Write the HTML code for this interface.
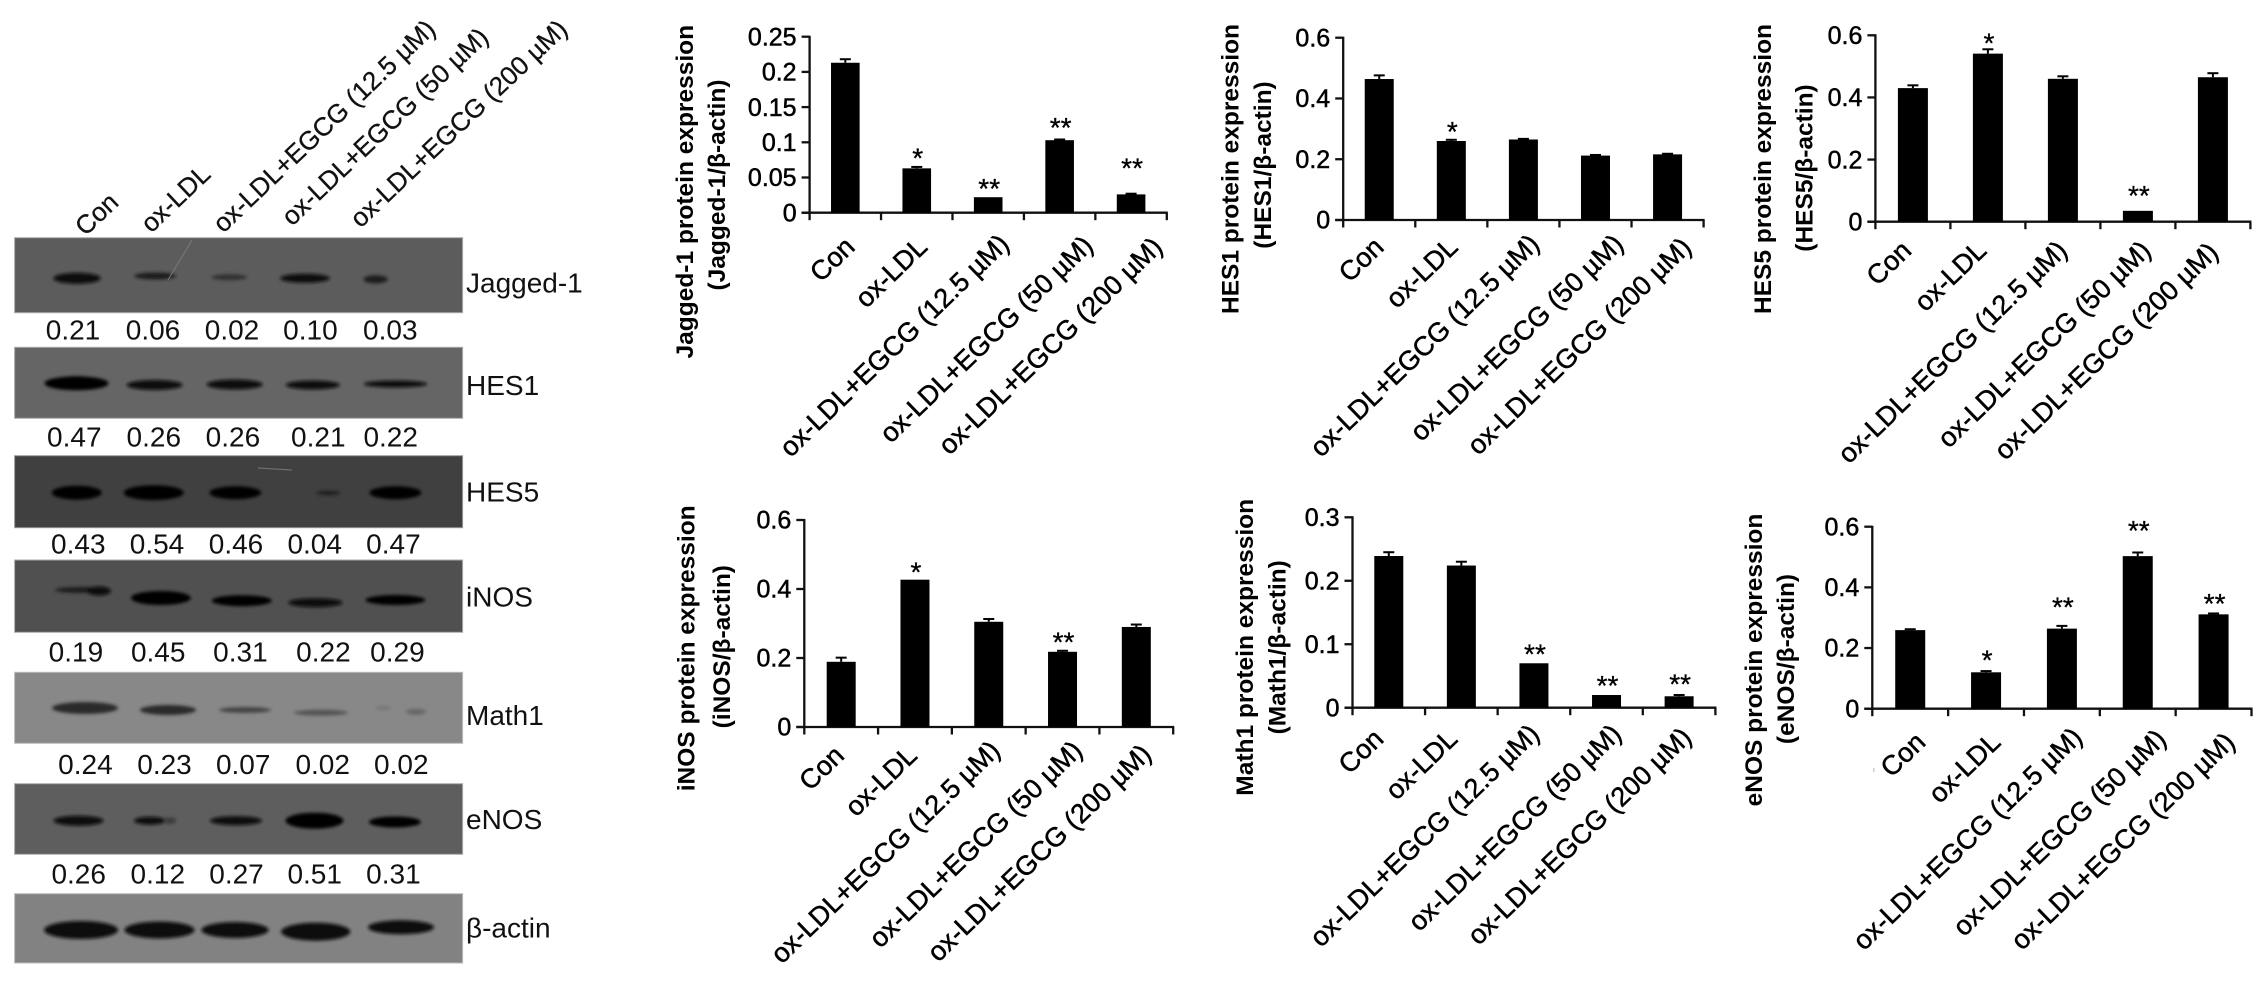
<!DOCTYPE html>
<html lang="en">
<head>
<meta charset="utf-8">
<title>Protein expression western blots and bar charts</title>
<style>
html,body{margin:0;padding:0;background:#fff;}
svg{display:block;}
text{font-family:"Liberation Sans",Arial,sans-serif;fill:#000;}
.val{font-size:28px;fill:#111;}
.blotname{font-size:28px;fill:#111;}
.lane{font-size:26px;fill:#111;stroke:#111;stroke-width:.3px;}
</style>
</head>
<body>
<svg id="figure" xmlns="http://www.w3.org/2000/svg" width="2268" height="986" viewBox="0 0 2268 986">
<defs>
<filter id="blur" x="-30%" y="-80%" width="160%" height="260%"><feGaussianBlur stdDeviation="1.6"/></filter>
</defs>
<rect width="2268" height="986" fill="#fff"/>

<g>
<text class="lane" transform="translate(120 204) rotate(-43.5)" text-anchor="end">Con</text>
<text class="lane" transform="translate(212 176) rotate(-43.5)" text-anchor="end">ox-LDL</text>
<text class="lane" transform="translate(437 31) rotate(-43.5)" text-anchor="end">ox-LDL+EGCG (12.5 µM)</text>
<text class="lane" transform="translate(490 39) rotate(-43.5)" text-anchor="end">ox-LDL+EGCG (50 µM)</text>
<text class="lane" transform="translate(569 31) rotate(-43.5)" text-anchor="end">ox-LDL+EGCG (200 µM)</text>
</g>

<g>
<rect x="14.6" y="237.7" width="448" height="75" fill="#5c5c5c" stroke="#aaa" stroke-width="1"/>
<g filter="url(#blur)">
<ellipse cx="77.1" cy="278.3" rx="23.7" ry="5.5" fill="#0d0d0d"/>
<ellipse cx="155.2" cy="276" rx="20.8" ry="3.5" fill="#1e1e1e"/>
<ellipse cx="229.3" cy="277.3" rx="17.8" ry="3" fill="#333"/>
<ellipse cx="305" cy="278.3" rx="25" ry="4.5" fill="#111"/>
<ellipse cx="375.6" cy="279.3" rx="12" ry="4" fill="#1a1a1a"/>
</g>
<line x1="168" y1="280" x2="192" y2="240" stroke="#797979" stroke-width="1"/>
</g>

<g>
<rect x="14.6" y="347.3" width="448" height="71" fill="#656565" stroke="#aaa" stroke-width="1"/>
<g filter="url(#blur)">
<ellipse cx="76.5" cy="383.3" rx="32" ry="7" fill="#050505"/>
<ellipse cx="154.6" cy="385" rx="28" ry="5" fill="#080808"/>
<ellipse cx="234.7" cy="384.5" rx="28" ry="5" fill="#080808"/>
<ellipse cx="312.8" cy="385" rx="27" ry="4.5" fill="#0a0a0a"/>
<ellipse cx="395.4" cy="384" rx="31.6" ry="3.5" fill="#0a0a0a"/>
</g>
</g>

<g>
<rect x="14.6" y="455.7" width="448" height="72" fill="#404040" stroke="#999" stroke-width="1"/>
<g filter="url(#blur)">
<ellipse cx="76.8" cy="492.7" rx="25" ry="7" fill="#020202"/>
<ellipse cx="153.7" cy="492.7" rx="30" ry="7.5" fill="#020202"/>
<ellipse cx="235.3" cy="492.7" rx="26" ry="6.5" fill="#020202"/>
<ellipse cx="328" cy="493" rx="12" ry="2" fill="#1a1a1a"/>
<ellipse cx="395.4" cy="492.7" rx="26" ry="6.5" fill="#020202"/>
</g>
<line x1="258" y1="468" x2="292" y2="470" stroke="#6e6e6e" stroke-width="1.2"/>
</g>

<g>
<rect x="14.6" y="560" width="448" height="72.3" fill="#505050" stroke="#aaa" stroke-width="1"/>
<g filter="url(#blur)">
<ellipse cx="82.8" cy="590" rx="28" ry="3" fill="#1a1a1a"/>
<ellipse cx="98.9" cy="591" rx="12" ry="4.5" fill="#080808"/>
<ellipse cx="160.9" cy="598" rx="30" ry="7" fill="#050505"/>
<ellipse cx="241.8" cy="600.7" rx="30" ry="5.5" fill="#050505"/>
<ellipse cx="315.4" cy="602.7" rx="27" ry="4.5" fill="#080808"/>
<ellipse cx="395.4" cy="600" rx="30" ry="5" fill="#050505"/>
</g>
</g>

<g>
<rect x="14.6" y="672.3" width="448" height="71" fill="#888" stroke="#bbb" stroke-width="1"/>
<g filter="url(#blur)">
<ellipse cx="85" cy="708" rx="33" ry="6" fill="#2b2b2b"/>
<ellipse cx="168" cy="710" rx="28" ry="5" fill="#2b2b2b"/>
<ellipse cx="245" cy="710" rx="26" ry="3" fill="#444"/>
<ellipse cx="321" cy="712.7" rx="27" ry="3" fill="#555"/>
<ellipse cx="416" cy="711.7" rx="10" ry="3" fill="#666"/>
<ellipse cx="383" cy="708" rx="8" ry="2" fill="#777"/>
</g>
</g>

<g>
<rect x="14.6" y="783.7" width="448" height="70.6" fill="#5e5e5e" stroke="#aaa" stroke-width="1"/>
<g filter="url(#blur)">
<ellipse cx="78.5" cy="820.7" rx="25" ry="5" fill="#080808"/>
<ellipse cx="150" cy="820.7" rx="16" ry="4" fill="#0d0d0d"/>
<ellipse cx="170" cy="820.7" rx="6" ry="3.5" fill="#3d3d3d"/>
<ellipse cx="236" cy="820.7" rx="26" ry="4.5" fill="#080808"/>
<ellipse cx="314.5" cy="820.7" rx="29" ry="8" fill="#030303"/>
<ellipse cx="394.9" cy="822" rx="26" ry="5.5" fill="#060606"/>
</g>
</g>

<g>
<rect x="14.6" y="893.7" width="448" height="69.3" fill="#828282" stroke="#bbb" stroke-width="1"/>
<g filter="url(#blur)">
<ellipse cx="81.1" cy="930" rx="37" ry="9" fill="#0d0d0d"/>
<ellipse cx="159.5" cy="930" rx="35" ry="8.5" fill="#0d0d0d"/>
<ellipse cx="235" cy="930" rx="33.6" ry="8" fill="#0d0d0d"/>
<ellipse cx="315.7" cy="931.7" rx="34.6" ry="9" fill="#0d0d0d"/>
<ellipse cx="401" cy="927.3" rx="33" ry="7" fill="#0d0d0d"/>
</g>
</g>

<g>
<text class="blotname" x="466" y="292.7">Jagged-1</text>
<text class="blotname" x="466" y="395">HES1</text>
<text class="blotname" x="466" y="501.7">HES5</text>
<text class="blotname" x="466" y="606.7">iNOS</text>
<text class="blotname" x="466" y="725">Math1</text>
<text class="blotname" x="466" y="829">eNOS</text>
<text class="blotname" x="466" y="937.3">β-actin</text>
</g>

<g text-anchor="middle">
<g>
<text class="val" x="73" y="339.3">0.21</text>
<text class="val" x="153" y="339.3">0.06</text>
<text class="val" x="232" y="339.3">0.02</text>
<text class="val" x="310.4" y="339.3">0.10</text>
<text class="val" x="390.3" y="339.3">0.03</text>
</g>
<g>
<text class="val" x="74.3" y="446.7">0.47</text>
<text class="val" x="153.8" y="446.7">0.26</text>
<text class="val" x="232.9" y="446.7">0.26</text>
<text class="val" x="318.3" y="446.7">0.21</text>
<text class="val" x="390.7" y="446.7">0.22</text>
</g>
<g>
<text class="val" x="78.3" y="553.3">0.43</text>
<text class="val" x="157" y="553.3">0.54</text>
<text class="val" x="236" y="553.3">0.46</text>
<text class="val" x="314.7" y="553.3">0.04</text>
<text class="val" x="393.4" y="553.3">0.47</text>
</g>
<g>
<text class="val" x="75.9" y="661.7">0.19</text>
<text class="val" x="158.2" y="661.7">0.45</text>
<text class="val" x="240.4" y="661.7">0.31</text>
<text class="val" x="323.4" y="661.7">0.22</text>
<text class="val" x="397.4" y="661.7">0.29</text>
</g>
<g>
<text class="val" x="85.4" y="774">0.24</text>
<text class="val" x="164.5" y="774">0.23</text>
<text class="val" x="243.2" y="774">0.07</text>
<text class="val" x="322.7" y="774">0.02</text>
<text class="val" x="401.3" y="774">0.02</text>
</g>
<g>
<text class="val" x="78.7" y="883.3">0.26</text>
<text class="val" x="157.8" y="883.3">0.12</text>
<text class="val" x="236.5" y="883.3">0.27</text>
<text class="val" x="314.7" y="883.3">0.51</text>
<text class="val" x="393.4" y="883.3">0.31</text>
</g>
</g>

<rect x="1873" y="768" width="1.5" height="4" fill="#ccc"/>
<g id="charts"></g>
</svg>

<script>
const categories = ['Con', 'ox-LDL', 'ox-LDL+EGCG (12.5 µM)', 'ox-LDL+EGCG (50 µM)', 'ox-LDL+EGCG (200 µM)'];

const jagged1Values = [0.213, 0.063, 0.022, 0.103, 0.026];
const jagged1Errors = [0.005, 0.002, 0, 0.001, 0.001];
const jagged1Stars = ['', '*', '**', '**', '**'];
const jagged1Ticks = [0, 0.05, 0.1, 0.15, 0.2, 0.25];
const jagged1TickLabels = ['0', '0.05', '0.1', '0.15', '0.2', '0.25'];

const hes1Values = [0.464, 0.26, 0.265, 0.212, 0.216];
const hes1Errors = [0.012, 0.004, 0.002, 0.002, 0.002];
const hes1Stars = ['', '*', '', '', ''];
const hes1Ticks = [0, 0.2, 0.4, 0.6];
const hes1TickLabels = ['0', '0.2', '0.4', '0.6'];

const hes5Values = [0.43, 0.541, 0.46, 0.035, 0.465];
const hes5Errors = [0.009, 0.014, 0.008, 0, 0.013];
const hes5Stars = ['', '*', '', '**', ''];
const hes5Ticks = [0, 0.2, 0.4, 0.6];
const hes5TickLabels = ['0', '0.2', '0.4', '0.6'];

const inosValues = [0.189, 0.427, 0.305, 0.218, 0.29];
const inosErrors = [0.012, 0, 0.008, 0.003, 0.007];
const inosStars = ['', '*', '', '**', ''];
const inosTicks = [0, 0.2, 0.4, 0.6];
const inosTickLabels = ['0', '0.2', '0.4', '0.6'];

const math1Values = [0.239, 0.224, 0.07, 0.02, 0.018];
const math1Errors = [0.006, 0.006, 0, 0, 0.002];
const math1Stars = ['', '', '**', '**', '**'];
const math1Ticks = [0, 0.1, 0.2, 0.3];
const math1TickLabels = ['0', '0.1', '0.2', '0.3'];

const enosValues = [0.259, 0.12, 0.264, 0.503, 0.311];
const enosErrors = [0.003, 0.004, 0.009, 0.012, 0.003];
const enosStars = ['', '*', '**', '**', '**'];
const enosTicks = [0, 0.2, 0.4, 0.6];
const enosTickLabels = ['0', '0.2', '0.4', '0.6'];

const SVG_NS = 'http://www.w3.org/2000/svg';
const chartsRoot = document.getElementById('charts');

function make(tag, attrs, parent, text) {
  const node = document.createElementNS(SVG_NS, tag);
  Object.keys(attrs).forEach(function (k) { node.setAttribute(k, attrs[k]); });
  if (text !== undefined) node.textContent = text;
  parent.appendChild(node);
  return node;
}

function drawPanel(slug, d, g) {
  const panel = make('g', {}, chartsRoot);
  
  

  const maxTick = d.ticks[d.ticks.length - 1];
  const yScale = function (v) { return g.zero - (v / maxTick) * (g.zero - g.top); };
  const step = (g.xEnd - g.x0) / d.values.length;
  const xCenter = function (i) { return g.x0 + step * (i + 0.5); };
  const axisStyle = { stroke: '#111', 'stroke-width': 2.3, fill: 'none' };

  const yAxis = make('line', Object.assign({ x1: g.x0, x2: g.x0, y1: g.top - 1, y2: g.zero + 1 }, axisStyle), panel);
  
  

  const xAxis = make('line', Object.assign({ x1: g.x0 - 8, x2: g.xEnd + 1, y1: g.zero, y2: g.zero }, axisStyle), panel);
  
  

  d.ticks.forEach(function (t, i) {
    const y = yScale(t);
    const tick = make('line', Object.assign({ x1: g.x0 - 8, x2: g.x0, y1: y, y2: y }, axisStyle), panel);
    
    
    const label = make('text', {
      x: g.x0 - 13, y: y + 8.7, 'text-anchor': 'end', 'font-size': 25,
      stroke: '#000', 'stroke-width': 0.5
    }, panel, d.tickLabels[i]);
    
    
  });

  for (let i = 0; i <= d.values.length; i++) {
    const x = g.x0 + step * i;
    const tick = make('line', Object.assign({ x1: x, x2: x, y1: g.zero, y2: g.zero + 7.5 }, axisStyle), panel);
    
    
  }

  d.values.forEach(function (v, i) {
    const cx = xCenter(i);
    const top = yScale(v);
    const bar = make('rect', { x: cx - g.barW / 2, y: top, width: g.barW, height: g.zero - top, fill: '#000' }, panel);
    
    

    if (d.errors[i] > 0) {
      const errTop = yScale(v + d.errors[i]);
      const stem = make('line', { x1: cx, x2: cx, y1: top, y2: errTop, stroke: '#000', 'stroke-width': 2 }, panel);
      
      
      const cap = make('line', { x1: cx - 5.5, x2: cx + 5.5, y1: errTop, y2: errTop, stroke: '#000', 'stroke-width': 2 }, panel);
      
      
    }

    if (d.stars[i]) {
      const star = make('text', {
        x: cx + 1, y: top - g.starGaps[i] + 13, 'text-anchor': 'middle', 'font-size': 28,
        stroke: '#000', 'stroke-width': 0.3
      }, panel, d.stars[i]);
      
      
    }

    const lx = cx + g.labelDx[i];
    const ly = g.zero + g.labelDy[i] + 4;
    const cat = make('text', {
      transform: 'translate(' + lx + ' ' + ly + ') rotate(-44)', 'text-anchor': 'end', 'font-size': 27,
      stroke: '#000', 'stroke-width': 0.5
    }, panel, categories[i]);
    
    
  });

  const t1 = make('text', {
    transform: 'translate(' + g.t1x + ' ' + g.t1y + ') rotate(-90)', 'text-anchor': 'middle',
    'font-size': 24.5, 'font-weight': 'bold'
  }, panel, d.title);
  
  

  const t2 = make('text', {
    transform: 'translate(' + g.t2x + ' ' + g.t2y + ') rotate(-90)', 'text-anchor': 'middle',
    'font-size': 24.5, 'font-weight': 'bold'
  }, panel, d.subtitle);
  
  
}

drawPanel('jagged-1',
  { values: jagged1Values, errors: jagged1Errors, stars: jagged1Stars, ticks: jagged1Ticks, tickLabels: jagged1TickLabels,
    title: 'Jagged-1 protein expression', subtitle: '(Jagged-1/β-actin)' },
  { x0: 809.6, xEnd: 1166.8, top: 36.7, zero: 212.7, barW: 28.6,
    starGaps: [0, 14, 12, 16, 30], labelDx: [11, 12, 22.5, 35, 33], labelDy: [32, 32, 29, 30.6, 32],
    t1x: 693, t1y: 191.7, t2x: 725, t2y: 185 });

drawPanel('hes1',
  { values: hes1Values, errors: hes1Errors, stars: hes1Stars, ticks: hes1Ticks, tickLabels: hes1TickLabels,
    title: 'HES1 protein expression', subtitle: '(HES1/β-actin)' },
  { x0: 1343.2, xEnd: 1703.6, top: 37.7, zero: 220, barW: 29,
    starGaps: [0, 13, 0, 0, 0], labelDx: [6, 8, 17.6, 29.5, 25.4], labelDy: [25, 25, 21.7, 21.7, 25],
    t1x: 1238.6, t1y: 169, t2x: 1271, t2y: 165 });

drawPanel('hes5',
  { values: hes5Values, errors: hes5Errors, stars: hes5Stars, ticks: hes5Ticks, tickLabels: hes5TickLabels,
    title: 'HES5 protein expression', subtitle: '(HES5/β-actin)' },
  { x0: 1875.4, xEnd: 2250.4, top: 35.3, zero: 221.7, barW: 30,
    starGaps: [0, 14.3, 0, 19, 0], labelDx: [0, 0, 6, 14.6, 7], labelDy: [26.6, 26.6, 26.6, 26.6, 28.3],
    t1x: 1771, t1y: 169, t2x: 1812.4, t2y: 168 });

drawPanel('inos',
  { values: inosValues, errors: inosErrors, stars: inosStars, ticks: inosTicks, tickLabels: inosTickLabels,
    title: 'iNOS protein expression', subtitle: '(iNOS/β-actin)' },
  { x0: 804.3, xEnd: 1173.2, top: 520, zero: 727, barW: 29,
    starGaps: [0, 11.3, 0, 13.3, 0], labelDx: [4.5, 3.6, 13, 21.5, 16.6], labelDy: [26.3, 26.3, 21.3, 21.3, 24.7],
    t1x: 694.6, t1y: 648.3, t2x: 730, t2y: 646.7 });

drawPanel('math1',
  { values: math1Values, errors: math1Errors, stars: math1Stars, ticks: math1Ticks, tickLabels: math1TickLabels,
    title: 'Math1 protein expression', subtitle: '(Math1/β-actin)' },
  { x0: 1352.5, xEnd: 1715.4, top: 517.3, zero: 707.7, barW: 29,
    starGaps: [0, 0, 13, 13, 16], labelDx: [-3.8, -2.4, 7, 16.5, 14], labelDy: [29, 29, 24, 24, 27.3],
    t1x: 1252.9, t1y: 647.3, t2x: 1285.7, t2y: 647.3 });

drawPanel('enos',
  { values: enosValues, errors: enosErrors, stars: enosStars, ticks: enosTicks, tickLabels: enosTickLabels,
    title: 'eNOS protein expression', subtitle: '(eNOS/β-actin)' },
  { x0: 1872.3, xEnd: 2251.5, top: 526.7, zero: 708.7, barW: 30,
    starGaps: [0, 15.7, 25.3, 29.3, 14.3], labelDx: [16.8, 16, 22, 30, 23], labelDy: [31.3, 31.3, 26.3, 28, 31.3],
    t1x: 1762, t1y: 660, t2x: 1794, t2y: 659 });
</script>
</body>
</html>
